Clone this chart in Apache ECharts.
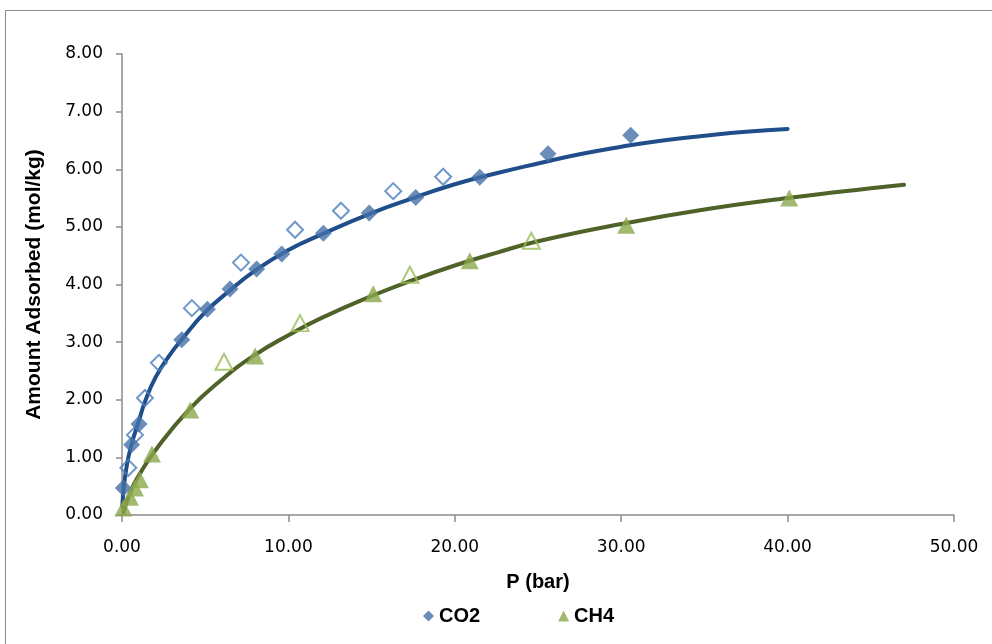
<!DOCTYPE html>
<html>
<head>
<meta charset="utf-8">
<script src="https://cdn.jsdelivr.net/npm/echarts@6/dist/echarts.min.js"></script>
<style>
html,body{margin:0;padding:0;background:#fff;}
#chart{width:992px;height:644px;}
</style>
</head>
<body>
<div id="chart"></div>
<script>
// CO2 measured (filled diamonds)
const co2FilledP = [0.08, 0.58, 1.02, 3.59, 5.13, 6.49, 8.09, 9.60, 12.10, 14.86, 17.65, 21.50, 25.60, 30.57];
const co2FilledQ = [0.47, 1.22, 1.58, 3.04, 3.57, 3.92, 4.27, 4.53, 4.89, 5.24, 5.51, 5.86, 6.27, 6.59];
// CO2 second set (open diamonds)
const co2OpenP = [0.38, 0.78, 1.38, 2.22, 4.20, 7.15, 10.40, 13.16, 16.30, 19.30];
const co2OpenQ = [0.82, 1.39, 2.03, 2.64, 3.59, 4.38, 4.95, 5.28, 5.62, 5.87];
// CH4 measured (filled triangles)
const ch4FilledP = [0.08, 0.48, 0.78, 1.08, 1.80, 4.10, 8.00, 15.10, 20.90, 30.30, 40.10];
const ch4FilledQ = [0.12, 0.31, 0.47, 0.61, 1.06, 1.82, 2.76, 3.84, 4.41, 5.03, 5.50];
// CH4 second set (open triangles)
const ch4OpenP = [6.13, 10.70, 17.30, 24.60];
const ch4OpenQ = [2.66, 3.33, 4.17, 4.76];
// Fitted curves
const co2FitP = [0.02, 0.1, 0.3, 0.6, 1.0, 1.4, 2.0, 2.8, 3.6, 5, 6.5, 8, 10, 12, 15, 17.5, 20, 22.5, 25, 27.5, 30, 32.5, 35, 37.5, 40];
const co2FitQ = [0.15, 0.45, 0.88, 1.25, 1.62, 1.98, 2.38, 2.75, 3.05, 3.52, 3.90, 4.24, 4.60, 4.87, 5.24, 5.50, 5.74, 5.93, 6.10, 6.26, 6.39, 6.50, 6.58, 6.65, 6.70];
const ch4FitP = [0.1, 0.5, 1, 2, 4, 6, 8, 10, 12, 15, 17.5, 20, 22.5, 25, 30, 35, 40, 45, 47];
const ch4FitQ = [0.05, 0.40, 0.68, 1.12, 1.82, 2.35, 2.78, 3.12, 3.42, 3.80, 4.08, 4.33, 4.55, 4.75, 5.05, 5.30, 5.50, 5.67, 5.73];
// Axes
const xTicks = [0, 10, 20, 30, 40, 50];
const yTicks = [0, 1, 2, 3, 4, 5, 6, 7, 8];
const legendNames = ['CO2', 'CH4'];

const zip = (a, b) => a.map((v, i) => [v, b[i]]);

const chart = echarts.init(document.getElementById('chart'), null, {renderer: 'canvas'});
const axisFont = {fontFamily: 'DejaVu Sans', fontSize: 17, color: '#000'};
const titleFont = {fontFamily: 'Liberation Sans', fontWeight: 'bold', fontSize: 20, color: '#000'};
chart.setOption({
  animation: false,
  backgroundColor: '#fff',
  graphic: [{
    type: 'rect', z: -1,
    shape: {x: 5.5, y: 10.5, width: 1000, height: 700},
    style: {fill: 'none', stroke: '#8c8c8c', lineWidth: 1}
  }],
  grid: {left: 122, right: 38, top: 54, bottom: 129, containLabel: false},
  legend: {
    data: [
      {name: legendNames[0], icon: 'diamond'},
      {name: legendNames[1], icon: 'triangle'}
    ],
    left: 418, top: 601, itemWidth: 11, itemHeight: 11, itemGap: 78,
    textStyle: titleFont,
    selectedMode: false
  },
  xAxis: {
    type: 'value', min: xTicks[0], max: xTicks[xTicks.length - 1], interval: 10,
    name: 'P (bar)', nameLocation: 'middle', nameGap: 57,
    nameTextStyle: titleFont,
    axisLine: {show: true, onZero: false, lineStyle: {color: '#8c8c8c', width: 1.5}},
    axisTick: {show: true, inside: false, length: 7, lineStyle: {color: '#8c8c8c', width: 1.5}},
    axisLabel: Object.assign({formatter: v => v.toFixed(2), margin: 24}, axisFont),
    splitLine: {show: false}
  },
  yAxis: {
    type: 'value', min: yTicks[0], max: yTicks[yTicks.length - 1], interval: 1,
    name: 'Amount Adsorbed (mol/kg)', nameLocation: 'middle', nameGap: 77, nameRotate: 90,
    nameTextStyle: Object.assign({}, titleFont, {fontSize: 21}),
    axisLine: {show: true, onZero: false, lineStyle: {color: '#8c8c8c', width: 1.5}},
    axisTick: {show: true, inside: false, length: 6, lineStyle: {color: '#8c8c8c', width: 1.5}},
    axisLabel: Object.assign({formatter: v => v.toFixed(2), margin: 19}, axisFont),
    splitLine: {show: false}
  },
  series: [
    {
      name: 'CO2 fit', type: 'line', data: zip(co2FitP, co2FitQ), smooth: 0.5, showSymbol: false,
      lineStyle: {color: '#1F4E8A', width: 4, cap: 'round'}, z: 1, silent: true
    },
    {
      name: 'CH4 fit', type: 'line', data: zip(ch4FitP, ch4FitQ), smooth: 0.5, showSymbol: false,
      lineStyle: {color: '#4F6228', width: 4, cap: 'round'}, z: 1, silent: true
    },
    {
      name: 'CO2 open', type: 'scatter', data: zip(co2OpenP, co2OpenQ), symbol: 'diamond', symbolSize: 16,
      itemStyle: {color: 'rgba(0,0,0,0)', borderColor: '#4A7EBB', borderWidth: 2}, z: 3
    },
    {
      name: 'CO2', type: 'scatter', data: zip(co2FilledP, co2FilledQ), symbol: 'diamond', symbolSize: 17,
      itemStyle: {color: '#4572A7'}, z: 4
    },
    {
      name: 'CH4 open', type: 'scatter', data: zip(ch4OpenP, ch4OpenQ), symbol: 'triangle', symbolSize: [17, 16],
      itemStyle: {color: 'rgba(0,0,0,0)', borderColor: '#9BBB59', borderWidth: 2}, z: 3
    },
    {
      name: 'CH4', type: 'scatter', data: zip(ch4FilledP, ch4FilledQ), symbol: 'triangle', symbolSize: [18, 17],
      itemStyle: {color: '#8BA84C'}, z: 4
    }
  ]
});
</script>
</body>
</html>
